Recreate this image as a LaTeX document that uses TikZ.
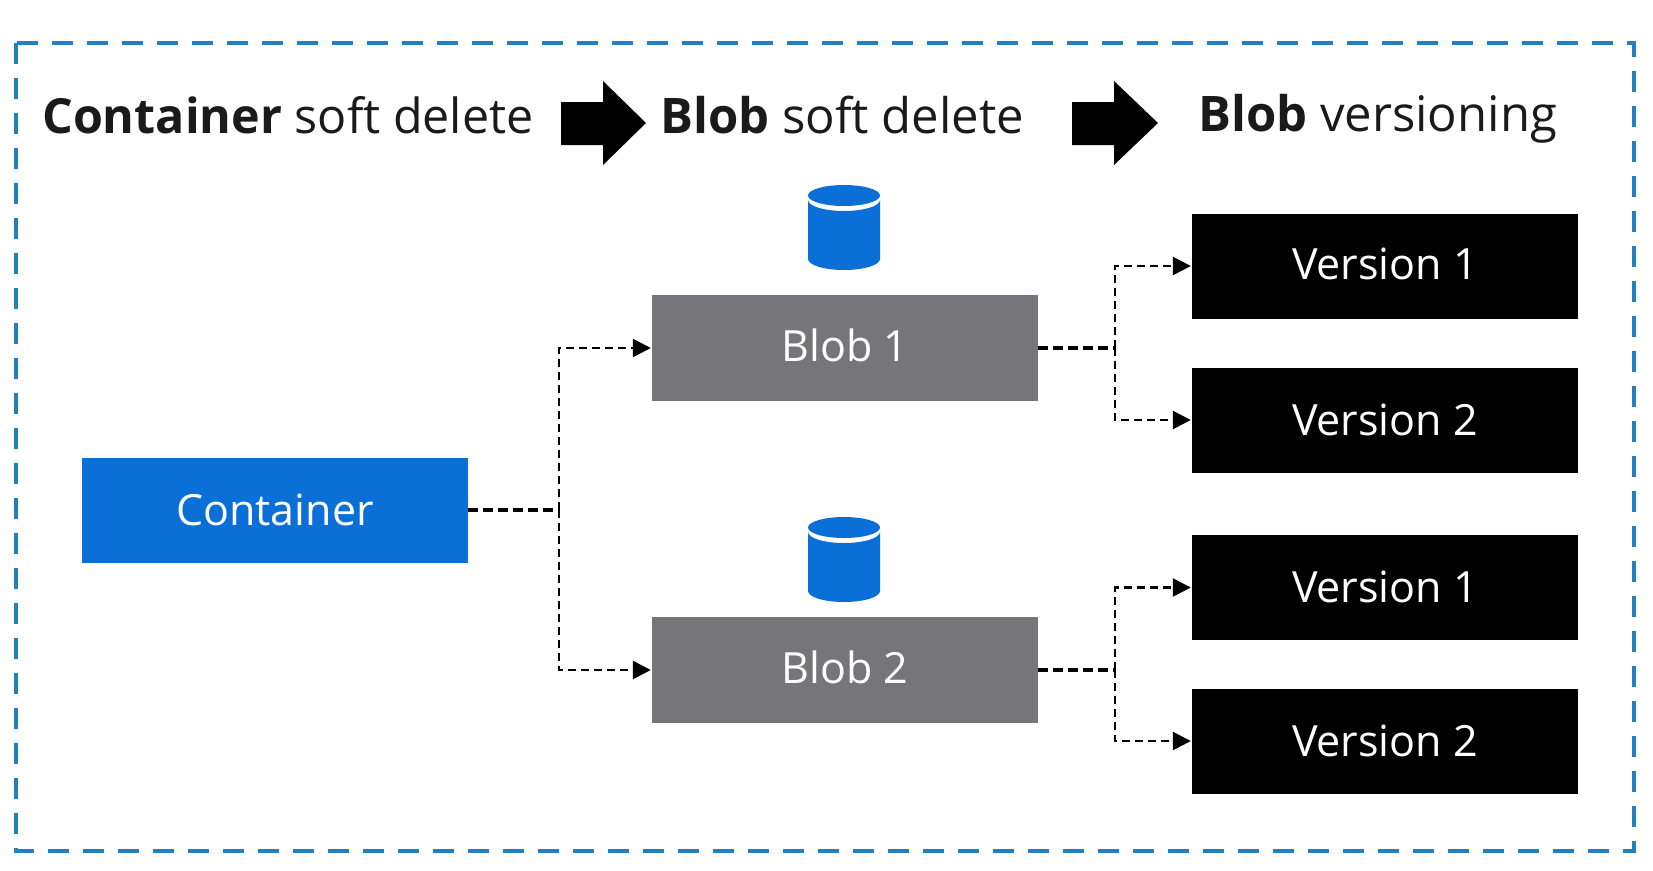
\documentclass[tikz,border=0pt]{standalone}
\usepackage{fontspec}
\setmainfont{Open Sans}
\usetikzlibrary{arrows.meta}
\definecolor{frameblue}{HTML}{2080C0}
\definecolor{azure}{HTML}{0A6FD6}
\definecolor{blobgrey}{HTML}{76767A}
\definecolor{inktext}{HTML}{1A1A1A}
\tikzset{
  box/.style={rectangle,inner sep=0pt,minimum width=386pt,text height=34pt,text depth=8pt,text=white,font=\fontsize{43}{52}\selectfont},
  lowered/.style={text height=36pt,text depth=6pt},
  containerbox/.style={box,lowered,fill=azure,minimum height=105pt},
  blobbox/.style={box,fill=blobgrey,minimum height=106pt},
  versionbox/.style={box,fill=black,minimum height=105pt},
  heading/.style={anchor=base west,inner sep=0pt,text=inktext,font=\fontsize{49}{58}\selectfont},
  trunk/.style={line width=3.5pt,dash pattern=on 10pt off 5pt},
  branch/.style={line width=2.5pt,dash pattern=on 8pt off 5pt,-{Triangle[length=18pt,width=18pt]},shorten >=1pt},
  blockarrow/.style={fill=black},
  cyl/.style={fill=azure}
}
\newcommand{\cylinderat}[2]{%
  \fill[cyl] (#1-36,#2-59) arc[start angle=180,end angle=360,x radius=36pt,y radius=11pt] -- (#1+36,#2) arc[start angle=0,end angle=-180,x radius=36pt,y radius=11pt] -- cycle;
  \fill[cyl] (#1,#2-63.5) ellipse[x radius=36pt,y radius=10.5pt];
}
\begin{document}
\begin{tikzpicture}[x=1pt,y=-1pt]
\useasboundingbox (0,0) rectangle (1653,870);
\fill[white] (0,0) rectangle (1653,870);
\draw[frameblue,line width=4pt,dash pattern=on 21pt off 14pt] (16,43) rectangle (1634,851);

\node[heading,font=\fontsize{48.4}{58}\selectfont] (h1) at (42,133) {\textbf{Container} soft delete};
\node[heading] (h2) at (660,133) {\textbf{Blob} soft delete};
\node[heading] (h3) at (1198,131) {\textbf{Blob} versioning};

\fill[blockarrow] (561,102)--(603,102)--(603,81)--(646,123)--(603,165)--(603,145)--(561,145)--cycle;
\fill[blockarrow] (1072,102)--(1114,102)--(1114,81)--(1158,123)--(1114,165)--(1114,145)--(1072,145)--cycle;

\cylinderat{844}{259}
\cylinderat{844}{591}

\node[containerbox] (container) at (275,510) {Container};
\node[blobbox] (blob1) at (845,348) {Blob 1};
\node[blobbox] (blob2) at (845,670) {Blob 2};
\node[versionbox] (v11) at (1385,266) {Version 1};
\node[versionbox,lowered] (v12) at (1385,420) {Version 2};
\node[versionbox,lowered] (v21) at (1385,587.5) {Version 1};
\node[versionbox,lowered] (v22) at (1385,741) {Version 2};

\coordinate (j0) at (559,510);
\coordinate (j1) at (1115,348);
\coordinate (j2) at (1115,670);

\draw[trunk] (container.east) -- (j0);
\draw[trunk] (blob1.east) -- (j1);
\draw[trunk] (blob2.east) -- (j2);
\draw[branch] (j0) |- (blob1.west);
\draw[branch] (j0) |- (blob2.west);
\draw[branch] (j1) |- (v11.west);
\draw[branch] (j1) |- (v12.west);
\draw[branch] (j2) |- (v21.west);
\draw[branch] (j2) |- (v22.west);
\end{tikzpicture}
\end{document}
